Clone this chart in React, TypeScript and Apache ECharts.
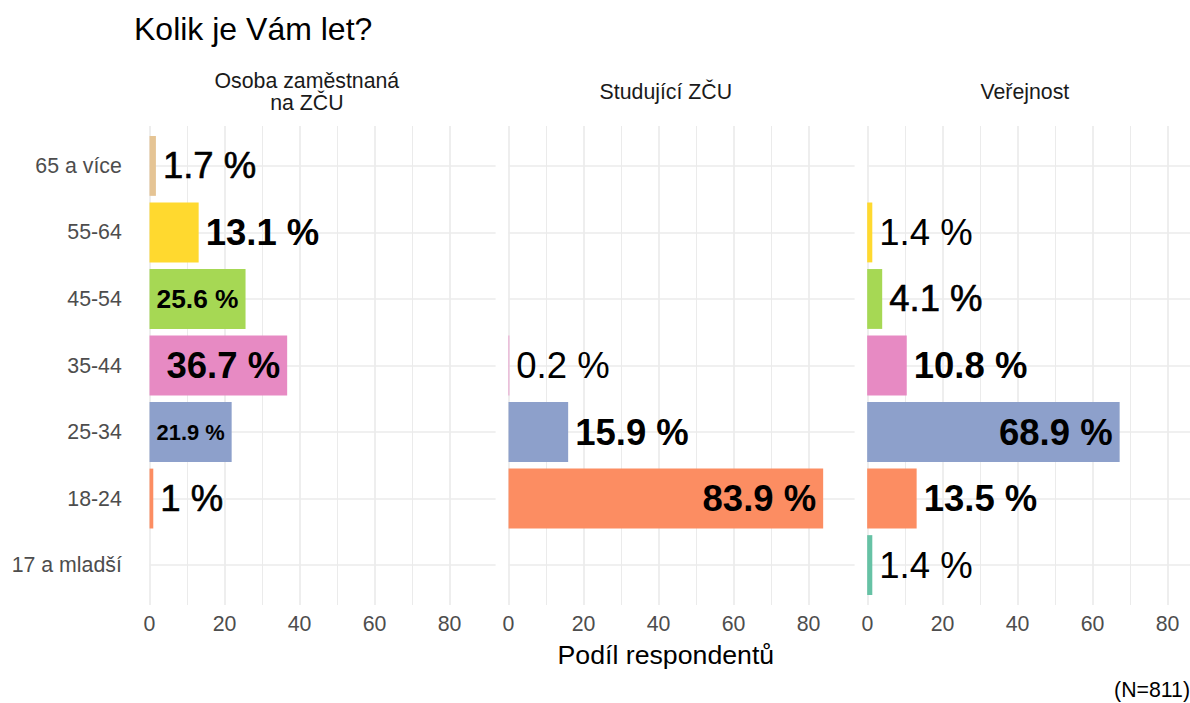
import React, { useEffect, useRef } from 'react';
import * as echarts from 'echarts';

// ---- data ----
const categories = ['17 a mladší', '18-24', '25-34', '35-44', '45-54', '55-64', '65 a více'];
const panelTitles = ['Osoba zaměstnaná\nna ZČU', 'Studující ZČU', 'Veřejnost'];
const employeeShares: (number | null)[] = [null, 1, 21.9, 36.7, 25.6, 13.1, 1.7];
const studentShares: (number | null)[] = [null, 83.9, 15.9, 0.2, null, null, null];
const publicShares: (number | null)[] = [1.4, 13.5, 68.9, 10.8, 4.1, 1.4, null];
const panelData = [employeeShares, studentShares, publicShares];
const xTickMax = 80;
const xTickStep = 20;
const chartTitle = 'Kolik je Vám let?';
const xAxisTitle = 'Podíl respondentů';
const caption = '(N=811)';

// ---- styles ----
const categoryColors = ['#66C2A5', '#FC8D62', '#8DA0CB', '#E78AC3', '#A6D854', '#FFD92F', '#E5C494'];
// label stroke weight per panel/category: b = bold, m = medium, r = regular
const labelWeights = [
  ['r', 'm', 'b', 'b', 'b', 'b', 'm'],
  ['r', 'b', 'b', 'r', 'r', 'r', 'r'],
  ['r', 'b', 'b', 'b', 'm', 'r', 'r'],
];

const FONT = 'Liberation Sans';
const PANEL_LEFT = [133.8, 492.8, 851.8];
const PANEL_W = 346.1;
const X_MIN = -4.195;
const X_MAX = 88.095;
const PX_PER = PANEL_W / (X_MAX - X_MIN);
const PANEL_TOP = 126;
const PANEL_H = 479;
const BAND = PANEL_H / 7.2;
const GRID_COLOR = '#ebebeb';
const LABEL_FULL = 36.5;
const LABEL_PAD = 7;

export default function App() {
  const ref = useRef<HTMLDivElement>(null);

  useEffect(() => {
    document.body.style.margin = '0';
    if (!ref.current) return;
    const chart = echarts.init(ref.current, undefined, { renderer: 'svg' });

    const ctx = document.createElement('canvas').getContext('2d')!;
    const measure = (t: string, size: number, weight: string) => {
      ctx.font = `${weight} ${size}px "${FONT}"`;
      return ctx.measureText(t).width;
    };

    const grid: any[] = [];
    const xAxis: any[] = [];
    const yAxis: any[] = [];
    const series: any[] = [];
    const graphic: any[] = [];

    PANEL_LEFT.forEach((L, p) => {
      // background grid (vertical lines + tick labels)
      grid.push({
        left: L + (0 - X_MIN) * PX_PER,
        width: xTickMax * PX_PER,
        top: PANEL_TOP,
        height: PANEL_H,
      });
      xAxis.push({
        type: 'value',
        gridIndex: 2 * p,
        min: 0,
        max: xTickMax,
        interval: xTickStep,
        axisLine: { show: false },
        axisTick: { show: false },
        minorTick: { show: false, splitNumber: 2 },
        axisLabel: { color: '#4d4d4d', fontSize: 21.3, fontFamily: FONT, margin: 8 },
        splitLine: { show: true, lineStyle: { color: GRID_COLOR, width: 1.7 } },
        minorSplitLine: { show: true, lineStyle: { color: GRID_COLOR, width: 1 } },
      });
      yAxis.push({ type: 'value', gridIndex: 2 * p, min: 0, max: 1, show: false });

      // bar grid
      grid.push({
        left: L,
        width: PANEL_W,
        top: PANEL_TOP + 0.1 * BAND,
        height: 7 * BAND,
      });
      xAxis.push({ type: 'value', gridIndex: 2 * p + 1, min: X_MIN, max: X_MAX, show: false });
      yAxis.push({
        type: 'category',
        gridIndex: 2 * p + 1,
        data: categories,
        axisLine: { show: false },
        axisTick: {
          show: true,
          inside: true,
          alignWithLabel: true,
          length: PANEL_W,
          lineStyle: { color: GRID_COLOR, width: 1.7 },
        },
        splitLine: { show: false },
        axisLabel: {
          show: p === 0,
          color: '#4d4d4d',
          fontSize: 21.3,
          fontFamily: FONT,
          margin: 12,
        },
      });

      const data = panelData[p].map((v, i) => {
        if (v === null) return '-';
        const text = `${v} %`;
        const w = labelWeights[p][i];
        const fontWeight = w === 'b' ? 'bold' : 'normal';
        const barPx = v * PX_PER;
        const avail = barPx - 2 * LABEL_PAD;
        const full = measure(text, LABEL_FULL, fontWeight);
        let position = 'right';
        let fontSize = LABEL_FULL;
        if (full <= avail) {
          position = 'insideRight';
        } else {
          const shrunk = (LABEL_FULL * avail) / full;
          if (shrunk >= 18) {
            position = 'insideRight';
            fontSize = shrunk;
          }
        }
        return {
          value: v,
          itemStyle: { color: categoryColors[i] },
          label: {
            show: true,
            position,
            distance: LABEL_PAD,
            formatter: text,
            fontSize,
            fontWeight,
            fontFamily: FONT,
            color: '#000',
            textBorderColor: w === 'm' ? '#000' : 'transparent',
            textBorderWidth: w === 'm' ? 0.6 : 0,
          },
        };
      });
      series.push({
        type: 'bar',
        xAxisIndex: 2 * p + 1,
        yAxisIndex: 2 * p + 1,
        barWidth: '90%',
        data,
      });

      graphic.push({
        type: 'text',
        x: L + PANEL_W / 2,
        y: 92,
        style: {
          text: panelTitles[p],
          fontSize: 21.3,
          fontFamily: FONT,
          fill: '#1a1a1a',
          align: 'center',
          verticalAlign: 'middle',
          lineHeight: 22,
        },
      });
    });

    graphic.push(
      {
        type: 'text',
        x: 134,
        y: 29,
        style: { text: chartTitle, fontSize: 32, fontFamily: FONT, fill: '#000', verticalAlign: 'middle' },
      },
      {
        type: 'text',
        x: (PANEL_LEFT[0] + PANEL_LEFT[2] + PANEL_W) / 2,
        y: 655,
        style: {
          text: xAxisTitle,
          fontSize: 26.7,
          fontFamily: FONT,
          fill: '#000',
          align: 'center',
          verticalAlign: 'middle',
        },
      },
      {
        type: 'text',
        x: 1190,
        y: 690,
        style: {
          text: caption,
          fontSize: 21.3,
          fontFamily: FONT,
          fill: '#000',
          align: 'right',
          verticalAlign: 'middle',
        },
      }
    );

    chart.setOption({
      animation: false,
      backgroundColor: '#fff',
      textStyle: { fontFamily: FONT },
      grid,
      xAxis,
      yAxis,
      series,
      graphic,
    });

    return () => chart.dispose();
  }, []);

  return <div ref={ref} style={{ width: 1190, height: 703 }} />;
}
